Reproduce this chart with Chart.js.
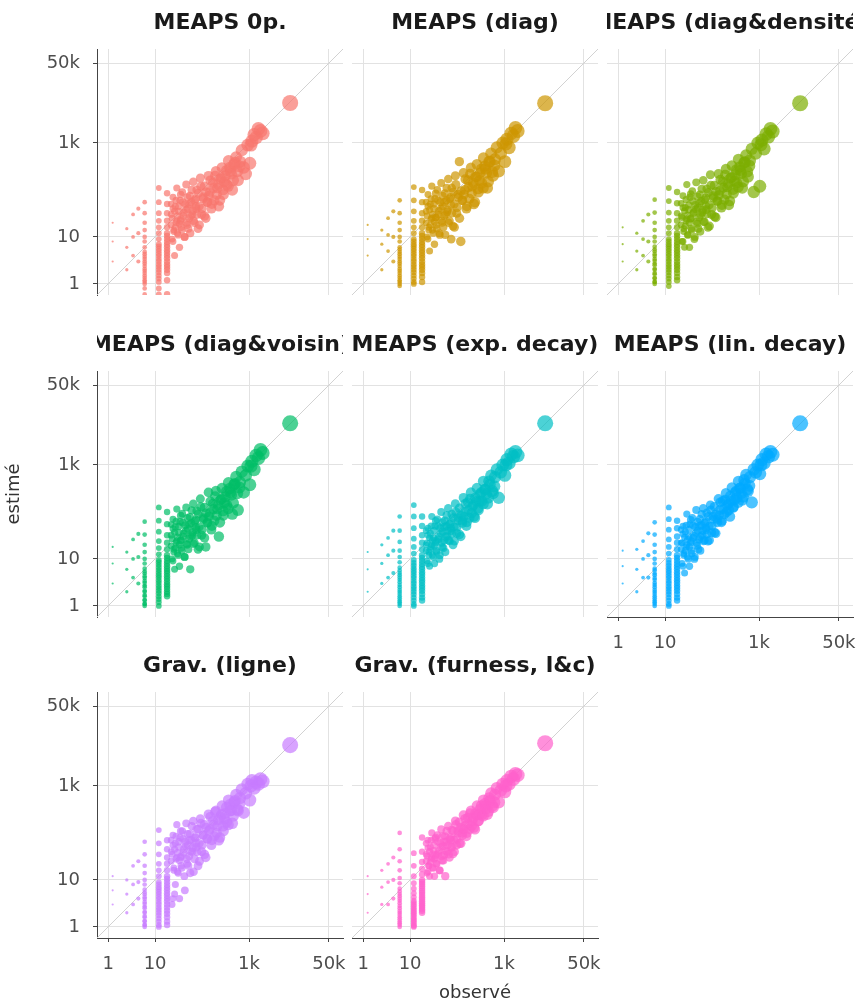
<!DOCTYPE html>
<html>
<head>
<meta charset="utf-8">
<script src="https://cdn.jsdelivr.net/npm/chart.js"></script>
<style>
  html, body { margin: 0; padding: 0; background: #ffffff; overflow: hidden; }
  #wrap { position: relative; width: 861px; height: 1005px; overflow: hidden; background: #ffffff; }
  canvas { position: absolute; }
</style>
</head>
<body>
<div id="wrap"></div>
<script>
// ---------------- DATA ----------------
const panelTitles = [
  'MEAPS 0p.', 'MEAPS (diag)', 'MEAPS (diag&densité)',
  'MEAPS (diag&voisin)', 'MEAPS (exp. decay)', 'MEAPS (lin. decay)',
  'Grav. (ligne)', 'Grav. (furness, l&c)'
];
const xAxisTitle = 'observé';
const yAxisTitle = 'estimé';
const tickValues = [1, 10, 1000, 50000];
const tickLabels = ['1', '10', '1k', '50k'];
const axisMin = 0.58;
const axisMax = 100000;

// observed values (shared by every panel)
const observed = [
  1.25,1.25,1.25,2.5,2.5,2.5,3.4,3.4,3.4,4.4,4.4,4.4,
  6,6,6,6,6,6,6,6,6,6,6,6,6,6,6,6,
  12,12,12,12,12,12,12,12,12,12,12,12,12,12,12,12,
  18,18,18,18,18,18,18,18,18,18,18,18,18,18,
  22,23,24,25,26,27,28,29,30,32,
  33,34,35,36,38,40,42,44,46,48,
  50,53,55,56,59,62,65,69,73,75,
  77,82,87,92,98,105,112,120,128,137,
  147,158,170,183,197,212,228,245,265,285,
  310,335,365,400,440,480,530,580,640,700,
  770,850,940,1040,1150,1280,1420,1580,1750,1950,
  7500,
  6,6,6,6,6,6,6,6,
  12,12,12,12,12,12,12,12,
  18,18,18,18,18,18,18,18,
  22,22,23,24,24,25,26,27,28,29,
  30,31,32,33,35,36,37,39,41,43,
  45,47,49,51,54,57,60,63,66,70,
  74,78,83,88,94,100,106,113,121,130,
  140,150,162,175,190,205,222,240,260,280,
  300,330,360,390,420,460,500,560,620,1100
];

const est_meaps0p = [
  3,8,20,2,6,15,4,10,30,3,12,40,
  0.6,1,1.2,1.5,1.9,2.4,3,3.8,4.8,6,8,10,14,20,32,55,
  0.6,1.1,1.5,2,2.6,3.4,4.4,5.6,7,9,12,16,22,32,55,110,
  0.6,1.7,2.3,3,4,5.2,6.8,9,12,16,22,32,50,85,
  30,9,70,14,4,45,20,110,12,35,
  6,60,22,16,90,28,10,50,130,18,
  40,25,75,12,55,30,150,20,65,40,
  100,15,45,180,30,70,120,25,55,200,
  90,40,140,60,250,110,45,170,300,80,
  200,130,420,250,100,350,500,160,400,700,
  300,220,900,370,1100,1500,1300,2000,1800,1600,
  7100,
  0.8,1.1,1.35,1.7,2.1,2.7,3.4,4.3,
  0.8,1.3,1.75,2.3,3,3.9,5,6.3,
  1.2,2,2.6,3.5,4.6,6,7.8,10.5,
  18,50,25,8,40,13,35,16,60,22,
  28,11,45,19,80,24,14,55,33,10,
  38,20,70,15,50,28,100,36,22,60,
  45,30,85,18,120,40,65,28,90,55,
  75,160,50,110,200,80,130,60,180,100,
  150,260,120,300,220,160,380,250,320,900
];
const est_diag = [
  4,9,18,2,7,14,5,11,25,3,10,35,
  0.9,1,1.2,1.5,1.9,2.4,3,3.8,4.8,6,8,10,14,20,32,60,
  1,1.1,1.5,2,2.6,3.4,4.4,5.6,7,9,12,16,22,35,60,115,
  1.1,1.7,2.3,3,4,5.2,6.8,9,12,16,22,32,55,100,
  35,10,80,16,5,50,24,120,14,40,
  7,65,26,18,100,30,12,55,140,20,
  45,28,85,11,60,34,170,22,70,9,
  110,17,50,200,32,80,400,8,60,230,
  100,40,160,65,300,120,50,190,350,90,
  230,140,480,280,110,400,600,200,450,800,
  250,600,1000,400,1200,800,1600,1400,2100,1800,
  7000,
  1.1,1.35,1.7,2.1,2.7,3.4,4.3,5.4,
  1.3,1.75,2.3,3,3.9,5,6.3,8,
  1.4,2,2.6,3.5,4.6,6,7.8,10.5,
  20,55,28,9,45,14,38,18,65,25,
  30,12,50,21,85,26,15,60,36,11,
  40,22,75,16,55,30,110,38,20,65,
  48,32,90,16,130,42,70,25,95,60,
  80,170,45,115,220,85,140,55,190,105,
  160,280,110,320,230,150,400,240,330,950
];
const est_diagDensite = [
  3,7,16,2,5,12,4,9,22,3,8,30,
  1,1.1,1.3,1.6,2,2.5,3.1,3.9,4.9,6.2,8,10,14,20,33,62,
  0.9,1.1,1.5,2,2.6,3.4,4.4,5.6,7,9,12,16,22,33,58,110,
  1.2,1.7,2.3,3,4,5.2,6.8,9,12,16,22,32,52,90,
  28,8,75,15,6,42,22,130,11,38,
  6,70,24,15,95,32,9,48,145,19,
  42,26,80,13,58,33,160,21,68,38,
  105,16,48,210,30,75,125,26,58,220,
  95,42,150,62,280,115,48,180,330,85,
  210,140,450,260,110,380,550,190,420,750,
  90,600,1000,120,1150,750,1550,1350,2000,1750,
  7000,
  1.1,1.35,1.7,2.1,2.7,3.4,4.3,5.4,
  1.3,1.75,2.3,3,3.9,5,6.3,8,
  1.4,2,2.6,3.5,4.6,6,7.8,10.5,
  18,52,26,8,42,13,36,17,62,24,
  29,11,48,20,82,25,14,58,34,10,
  39,21,72,15,52,29,105,37,21,62,
  46,31,88,17,125,41,68,27,92,58,
  78,165,48,112,210,82,135,58,185,102,
  155,270,115,310,225,150,390,245,325,920
];
const est_diagVoisin = [
  3,8,18,2,6,14,4,10,26,3,11,34,
  1,1.1,1.3,1.6,2,2.5,3.1,3.9,4.9,6.2,8,10,14,20,33,62,
  1,1.2,1.6,2.1,2.7,3.5,4.5,5.8,7.5,9.5,12.5,17,24,38,65,125,
  1.6,2,2.6,3.3,4.3,5.5,7,9,12,16,22,32,55,100,
  32,10,70,16,6,48,22,115,13,36,
  7,62,25,17,92,30,11,52,125,20,
  44,27,78,6,58,32,150,22,68,42,
  105,16,48,190,32,75,125,18,58,260,
  95,42,150,65,280,115,30,180,320,85,
  210,140,420,260,90,380,560,110,430,720,
  260,600,950,380,1200,800,1600,1400,2100,1800,
  7700,
  1.1,1.35,1.7,2.1,2.7,3.4,4.3,5.4,
  1.4,1.85,2.4,3.1,4,5.1,6.6,8.5,
  1.8,2.3,2.9,3.8,4.9,6.2,8,10.5,
  19,54,27,9,44,14,37,17,63,24,
  29,12,49,20,84,25,15,59,35,11,
  40,21,74,16,54,30,108,37,21,63,
  47,32,90,18,128,42,70,28,94,60,
  80,168,50,115,215,84,138,60,188,105,
  158,275,118,315,230,155,395,250,330,940
];
const est_expDecay = [
  2,6,14,3,8,20,4,12,28,5,15,40,
  1,1.1,1.3,1.6,2,2.5,3.2,4,5,6.5,8.5,11,15,23,40,80,
  1,1.1,1.5,2,2.6,3.4,4.4,5.6,7.2,9.5,13,18,27,45,80,140,
  1.3,1.8,2.4,3.1,4,5.2,6.8,9,12,16,22,32,50,80,
  20,9,45,14,7,35,18,80,12,28,
  8,50,22,15,70,26,10,45,100,18,
  38,25,65,14,50,30,120,24,60,40,
  90,20,48,150,35,75,120,30,65,200,
  100,50,160,75,260,130,80,200,320,110,
  240,170,450,300,150,450,600,250,550,800,
  200,700,1000,600,1300,1100,1700,1500,1900,1600,
  7700,
  1.2,1.45,1.8,2.2,2.8,3.6,4.5,5.7,
  1.3,1.75,2.3,3,3.9,5,6.3,8.2,
  1.5,2.1,2.7,3.5,4.6,6,7.8,10.5,
  15,40,22,8,32,12,28,16,50,20,
  25,11,40,19,65,24,14,50,30,12,
  35,22,60,17,48,30,85,40,25,55,
  45,35,75,24,100,48,65,33,85,58,
  80,150,60,110,190,95,140,75,170,120,
  170,260,150,300,240,200,380,280,350,1000
];
const est_linDecay = [
  3,7,15,2,6,16,4,10,24,4,12,35,
  1,1.1,1.3,1.6,2,2.5,3.1,3.9,4.9,6.2,8,10,14,20,33,60,
  1,1.1,1.5,2,2.6,3.4,4.4,5.6,7.2,9.5,13,18,26,42,70,125,
  1.3,1.8,2.4,3.1,4,5.2,6.8,9,12,16,22,30,45,65,
  22,8,50,13,5,38,18,90,11,30,
  7,55,22,15,75,28,10,48,110,19,
  40,26,70,15,52,32,120,25,62,42,
  95,24,50,140,36,80,130,35,70,190,
  110,60,170,90,250,140,110,220,330,130,
  260,200,450,320,180,480,620,280,550,160,
  800,700,1000,650,1300,1100,1700,1500,1900,1650,
  7700,
  1.2,1.45,1.8,2.2,2.8,3.6,4.5,5.7,
  1.3,1.75,2.3,3,3.9,5,6.3,8.2,
  1.5,2.1,2.7,3.5,4.6,6,7.8,10.5,
  16,42,22,7,34,12,29,15,52,20,
  26,10,42,18,68,24,13,52,31,11,
  36,22,62,16,50,30,90,40,24,58,
  46,34,80,25,110,50,70,36,88,60,
  85,160,65,115,180,100,150,80,170,125,
  180,280,160,320,250,210,400,300,360,1000
];
const est_gravLigne = [
  3,6,12,2,5,10,3,8,20,4,9,25,
  1,1.1,1.3,1.6,2,2.5,3.1,3.9,4.9,6.2,8,10,14,20,35,65,
  1,1.1,1.5,2,2.6,3.4,4.4,5.6,7,9,12,16,22,35,60,115,
  1.1,1.6,2.2,3,4,5.2,6.8,9,12,16,22,30,45,70,
  40,3,90,18,5,60,28,150,15,50,
  4,80,30,20,110,38,12,65,160,22,
  55,32,95,14,70,40,180,28,80,50,
  120,20,60,200,40,90,150,30,75,250,
  120,55,180,85,300,140,70,220,380,110,
  260,170,500,300,160,450,650,300,550,850,
  270,700,1100,500,1300,900,1200,1100,1400,1250,
  7400,
  1.1,1.35,1.7,2.1,2.7,3.4,4.3,5.4,
  1.3,1.75,2.3,3,3.9,5,6.3,8,
  1.3,1.9,2.6,3.5,4.6,6,7.8,10.5,
  25,70,35,4,55,16,45,8,85,30,
  38,14,65,26,110,32,18,75,45,6,
  52,28,95,20,70,40,140,48,15,80,
  60,40,120,25,160,55,90,35,130,75,
  110,220,70,150,280,100,190,80,250,140,
  200,350,150,400,300,230,480,320,420,1000
];
const est_gravFurness = [
  2,5,12,3,7,16,3,9,22,4,10,30,
  1,1.1,1.3,1.6,2,2.5,3.2,4,5,6.5,8.5,11,16,25,45,100,
  1,1.1,1.3,1.5,1.8,2.1,2.5,3,3.6,4.3,5.2,6.5,8.5,12,20,37,
  2,2.4,2.9,3.5,4.3,5.3,6.6,8.2,10,13,17,24,40,80,
  35,14,70,20,12,50,28,100,18,42,
  12,75,30,22,90,36,16,60,120,26,
  52,34,85,12,65,40,140,30,80,50,
  115,36,70,180,55,110,170,60,100,240,
  140,85,210,120,300,180,130,260,380,180,
  320,240,500,380,250,550,700,350,650,900,
  450,800,1100,750,1300,1100,1600,1400,1800,1700,
  8100,
  1.2,1.45,1.8,2.2,2.8,3.6,4.5,5.7,
  1.05,1.2,1.4,1.65,1.95,2.3,2.75,3.3,
  2.2,2.65,3.2,3.9,4.8,5.9,7.3,9,
  25,60,32,15,48,20,40,24,70,30,
  36,18,55,28,80,34,22,65,42,16,
  50,32,85,26,65,42,110,55,35,75,
  70,50,110,40,150,75,100,60,130,90,
  120,200,100,160,260,140,210,120,240,180,
  250,380,230,420,330,290,480,380,450,1000
];

const estimates = [
  est_meaps0p, est_diag, est_diagDensite,
  est_diagVoisin, est_expDecay, est_linDecay,
  est_gravLigne, est_gravFurness
];
const panelColors = [
  '248,118,109', '205,150,0', '124,174,0',
  '0,190,103', '0,191,196', '0,169,255',
  '199,124,255', '255,97,204'
];

// ---------------- LAYOUT ----------------
const PLOT = 246;
const colLeft = [97, 352, 607];
const rowTop = [49, 371, 692];
const FONT = '"DejaVu Sans", "Liberation Sans", Arial, sans-serif';

const stripTitle = {
  id: 'stripTitle',
  afterDraw(chart, args, opts) {
    const { ctx, chartArea: a } = chart;
    ctx.save();
    ctx.beginPath();
    ctx.rect(a.left, 0, a.right - a.left, a.top);
    ctx.clip();
    ctx.font = 'bold 22px ' + FONT;
    ctx.fillStyle = '#1a1a1a';
    ctx.textAlign = 'center';
    ctx.textBaseline = 'alphabetic';
    ctx.fillText(opts.text, (a.left + a.right) / 2, a.top - 20);
    ctx.restore();
  }
};

const wrap = document.getElementById('wrap');
const sizeOf = (c) => (c.raw ? 0.9 + 0.8 * Math.log(c.raw.x) : 2);

panelTitles.forEach((title, i) => {
  const row = Math.floor(i / 3), col = i % 3;
  const showY = col === 0;
  const showX = i >= 5;
  const LEFT = showY ? 97 : 12;
  const TOP = row === 0 ? 49 : 40;
  const BOTTOM = row === 2 ? 67 : (showX ? 45 : 30);
  const RIGHT = 20;
  const W = LEFT + PLOT + RIGHT;
  const H = TOP + PLOT + BOTTOM;

  const cv = document.createElement('canvas');
  cv.width = W; cv.height = H;
  cv.style.width = W + 'px'; cv.style.height = H + 'px';
  cv.style.left = (colLeft[col] - LEFT) + 'px';
  cv.style.top = (rowTop[row] - TOP) + 'px';
  wrap.appendChild(cv);

  const est = estimates[i];
  const pts = observed.map((x, k) => ({ x: x, y: est[k] }));
  const rgb = panelColors[i];

  const tickCb = (v) => {
    const k = tickValues.indexOf(v);
    return k >= 0 ? tickLabels[k] : '';
  };
  const setTicks = (scale) => { scale.ticks = tickValues.map(v => ({ value: v })); };

  new Chart(cv, {
    type: 'scatter',
    data: {
      datasets: [
        {
          type: 'line',
          data: [{ x: axisMin, y: axisMin }, { x: axisMax, y: axisMax }],
          borderColor: '#d2d2d2',
          borderWidth: 1,
          pointRadius: 0,
          order: 2
        },
        {
          data: pts,
          backgroundColor: 'rgba(' + rgb + ',0.7)',
          borderWidth: 0,
          pointRadius: sizeOf,
          pointHoverRadius: sizeOf,
          order: 1
        }
      ]
    },
    options: {
      responsive: false,
      animation: false,
      devicePixelRatio: 1,
      events: [],
      layout: { padding: { left: 0, top: TOP, right: RIGHT, bottom: 0 } },
      plugins: {
        legend: { display: false },
        tooltip: { enabled: false },
        title: { display: false },
        stripTitle: { text: title }
      },
      scales: {
        x: {
          type: 'logarithmic',
          min: axisMin, max: axisMax,
          afterBuildTicks: setTicks,
          afterFit: (s) => { s.height = BOTTOM; },
          border: { display: showX, color: '#444444', width: 1 },
          grid: { color: '#e2e2e2', lineWidth: 1, drawTicks: showX, tickLength: 4, tickColor: '#444444' },
          ticks: { display: showX, callback: tickCb, maxRotation: 0, autoSkip: false, padding: 12,
                   color: '#4d4d4d', font: { family: FONT, size: 18 } },
          title: { display: i === 7, text: xAxisTitle, color: '#333333',
                   font: { family: FONT, size: 18 }, padding: { top: 0, bottom: 1 } }
        },
        y: {
          type: 'logarithmic',
          min: axisMin, max: axisMax,
          afterBuildTicks: setTicks,
          afterFit: (s) => { s.width = LEFT; },
          border: { display: showY, color: '#444444', width: 1 },
          grid: { color: '#e2e2e2', lineWidth: 1, drawTicks: showY, tickLength: 4, tickColor: '#444444' },
          ticks: { display: showY, callback: tickCb, autoSkip: false, padding: 13,
                   color: '#4d4d4d', font: { family: FONT, size: 18 } },
          title: { display: i === 3, text: yAxisTitle, color: '#333333',
                   font: { family: FONT, size: 18 }, padding: { top: 4, bottom: 0 } }
        }
      }
    },
    plugins: [stripTitle]
  });
});
</script>
</body>
</html>
